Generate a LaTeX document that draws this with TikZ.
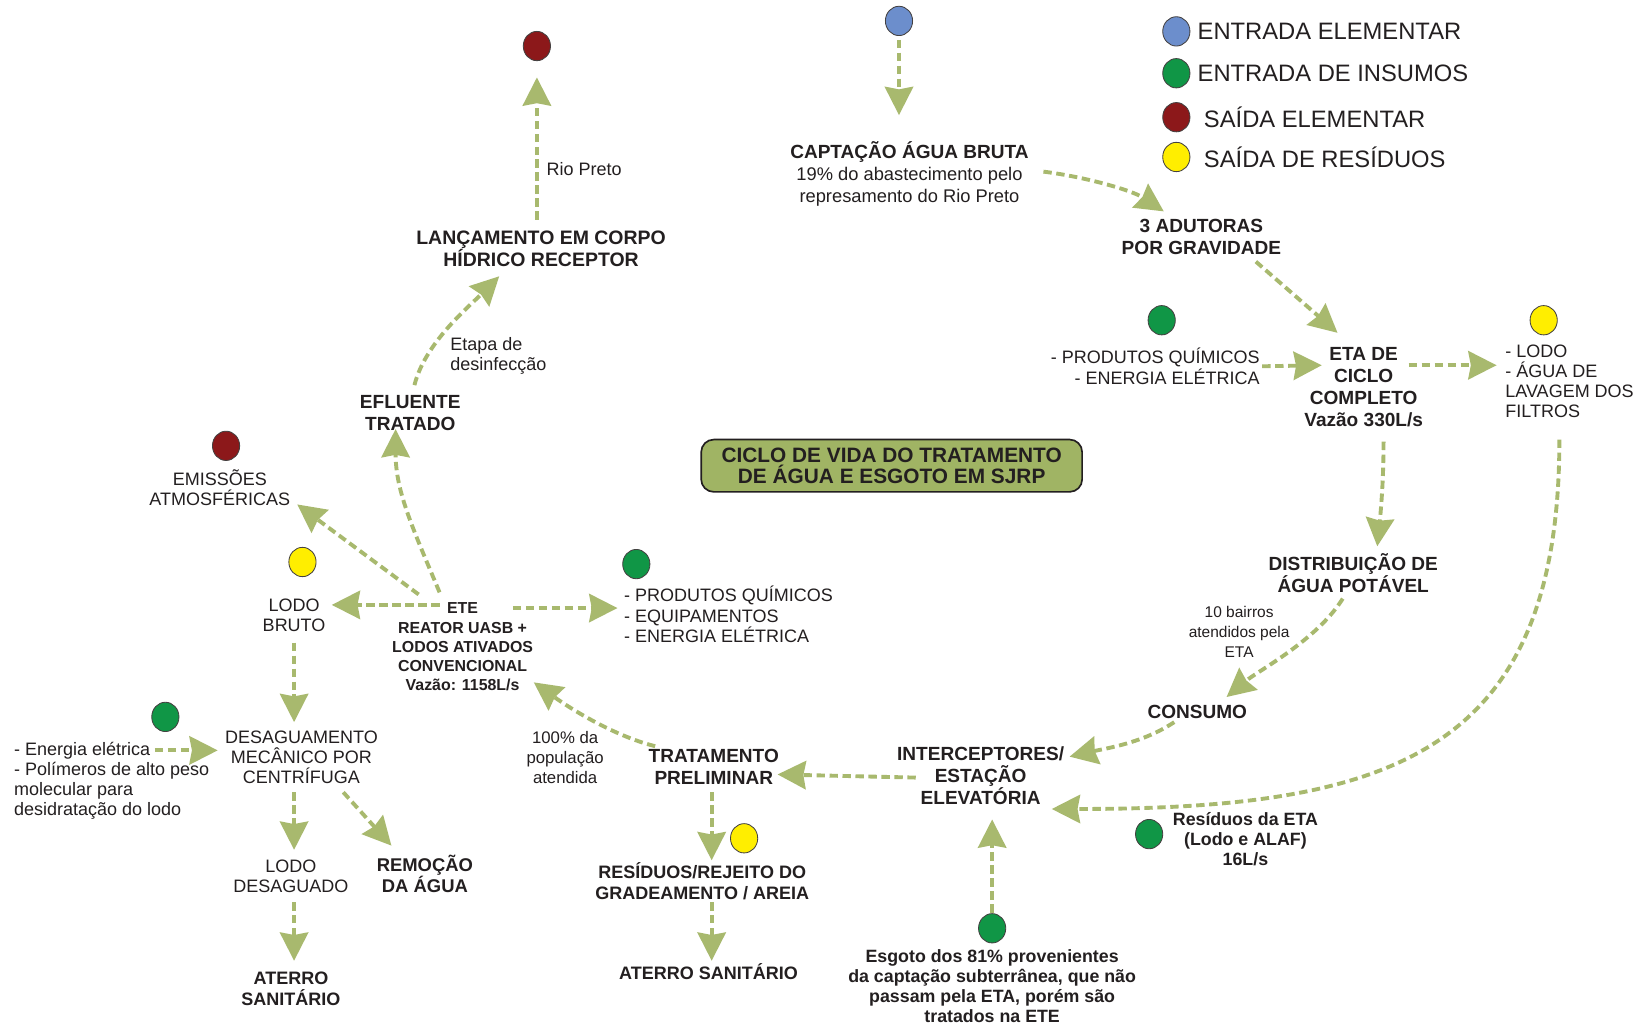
\documentclass[tikz,border=0pt]{standalone}
\usepackage{fontspec}
\setmainfont{Liberation Sans}
\usetikzlibrary{arrows.meta,shapes.geometric}

\definecolor{flowgreen}{RGB}{168,185,110}
\definecolor{titlefill}{RGB}{160,180,100}
\definecolor{dotblue}{RGB}{108,142,204}
\definecolor{dotgreen}{RGB}{16,150,70}
\definecolor{dotred}{RGB}{140,24,26}
\definecolor{dotyellow}{RGB}{255,238,0}
\definecolor{ink}{RGB}{35,31,32}

\tikzset{
  flow/.style={draw=flowgreen, line width=1.85pt, dash pattern=on 4pt off 2.2pt,
    -{Stealth[length=13.5pt,width=13.5pt,inset=1.2pt]}},
  dot/.style={ellipse, draw=ink!85, line width=0.4pt, minimum width=13pt,
    minimum height=14pt, inner sep=0pt},
  bluedot/.style={dot, fill=dotblue},
  greendot/.style={dot, fill=dotgreen},
  reddot/.style={dot, fill=dotred},
  yellowdot/.style={dot, fill=dotyellow},
  stage/.style={font=\fontsize{9.1}{10.5}\selectfont\bfseries, align=center, text=ink, inner sep=0pt},
  plain/.style={font=\fontsize{8.6}{9.6}\selectfont, align=center, text=ink, inner sep=0pt},
  note/.style={font=\fontsize{8}{9.5}\selectfont, align=center, text=ink, inner sep=0pt},
  boldnote/.style={font=\fontsize{8.5}{9.6}\selectfont\bfseries, align=center, text=ink, inner sep=0pt},
  etebox/.style={font=\fontsize{7.6}{9.1}\selectfont\bfseries, align=center, text=ink, inner sep=0pt},
  legendtext/.style={font=\fontsize{11.35}{13}\selectfont, text=ink, anchor=west, inner sep=0pt},
  titlebox/.style={rectangle, rounded corners=6pt, fill=titlefill, draw=ink, line width=0.8pt,
    minimum width=182pt, minimum height=25pt, inner sep=0pt,
    font=\fontsize{9.95}{10.4}\selectfont\bfseries, align=center, text=ink}
}

\begin{document}
\begin{tikzpicture}[x=0.5pt,y=-0.5pt]
\useasboundingbox (0,0) rectangle (1568,983);
\fill[white] (0,0) rectangle (1568,983);

% legend
\node[bluedot]   (lg1) at (1124,30)  {};
\node[greendot]  (lg2) at (1124,70)  {};
\node[reddot]    (lg3) at (1124,112) {};
\node[yellowdot] (lg4) at (1124,150) {};
\node[legendtext] (lt1) at (1144,30)  {ENTRADA ELEMENTAR};
\node[legendtext] (lt2) at (1144,70)  {ENTRADA DE INSUMOS};
\node[legendtext] (lt3) at (1150,112) {SAÍDA ELEMENTAR};
\node[legendtext] (lt4) at (1150,150) {SAÍDA DE RESÍDUOS};

% title
\node[titlebox] (title) at (852,445) {CICLO DE VIDA DO TRATAMENTO\\DE ÁGUA E ESGOTO EM SJRP};

% water supply side
\node[bluedot] (bdot) at (859,20) {};
\node[plain, font=\fontsize{8.75}{10.4}\selectfont] (cap) at (869,166)
  {{\fontsize{9.1}{10.4}\selectfont\bfseries CAPTAÇÃO ÁGUA BRUTA}\\19\% do abastecimento pelo\\represamento do Rio Preto};
\node[stage] (adut) at (1148,226) {3 ADUTORAS\\POR GRAVIDADE};
\node[stage] (eta) at (1303,370) {ETA DE\\CICLO\\COMPLETO\\Vazão 330L/s};
\node[greendot] (getai) at (1110,306) {};
\node[plain, align=right, anchor=east] (etain) at (1204,350) {- PRODUTOS QUÍMICOS\\- ENERGIA ELÉTRICA};
\node[yellowdot] (yetao) at (1475,306) {};
\node[plain, align=left, anchor=west] (etaout) at (1438,364) {- LODO\\- ÁGUA DE\\LAVAGEM DOS\\FILTROS};
\node[stage] (dist) at (1293,548) {DISTRIBUIÇÃO DE\\ÁGUA POTÁVEL};
\node[note, font=\fontsize{7.4}{9.5}\selectfont] (bair) at (1184,604) {10 bairros\\atendidos pela\\ETA};
\node[stage] (cons) at (1144,680) {CONSUMO};

% sewage side
\node[stage] (inter) at (937,741) {INTERCEPTORES/\\ESTAÇÃO\\ELEVATÓRIA};
\node[greendot] (gesg) at (948,887) {};
\node[boldnote] (esg) at (948,942) {Esgoto dos 81\% provenientes\\da captação subterrânea, que não\\passam pela ETA, porém são\\tratados na ETE};
\node[greendot] (gres) at (1098,797) {};
\node[boldnote] (reseta) at (1190,802) {Resíduos da ETA\\(Lodo e ALAF)\\16L/s};
\node[stage] (prelim) at (682,733) {TRATAMENTO\\PRELIMINAR};
\node[yellowdot] (yres) at (711,801) {};
\node[stage, font=\fontsize{8.6}{10.2}\selectfont\bfseries] (resid) at (671,842) {RESÍDUOS/REJEITO DO\\GRADEAMENTO / AREIA};
\node[stage, font=\fontsize{8.6}{10.2}\selectfont\bfseries] (aterB) at (677,928) {ATERRO SANITÁRIO};
\node[note] (pop) at (540,724) {100\% da\\população\\atendida};

% treatment plant
\node[etebox] (ete) at (442,618) {ETE\\REATOR UASB +\\LODOS ATIVADOS\\CONVENCIONAL\\Vazão: 1158L/s};
\node[greendot] (gete) at (608,539) {};
\node[plain, align=left, anchor=west] (eteins) at (596,587) {- PRODUTOS QUÍMICOS\\- EQUIPAMENTOS\\- ENERGIA ELÉTRICA};
\node[yellowdot] (ylodo) at (289,537) {};
\node[plain] (lodob) at (281,588) {LODO\\BRUTO};
\node[reddot] (remis) at (216,426) {};
\node[plain] (emis) at (210,466) {EMISSÕES\\ATMOSFÉRICAS};
\node[stage] (eflu) at (392,395) {EFLUENTE\\TRATADO};
\node[plain, align=left, anchor=west] (desinf) at (430,340) {Etapa de\\desinfecção};
\node[stage, font=\fontsize{9.3}{10.5}\selectfont\bfseries] (lanc) at (517,238) {LANÇAMENTO EM CORPO\\HÍDRICO RECEPTOR};
\node[plain, anchor=west] (rio) at (522,162) {Rio Preto};
\node[reddot] (rdotA) at (513,44) {};

% sludge line
\node[plain] (desag) at (288,724) {DESAGUAMENTO\\MECÂNICO POR\\CENTRÍFUGA};
\node[greendot] (gdes) at (158,685) {};
\node[plain, align=left, anchor=west] (desagin) at (13,746) {- Energia elétrica\\- Polímeros de alto peso\\molecular para\\desidratação do lodo};
\node[plain] (lodod) at (278,837) {LODO\\DESAGUADO};
\node[stage, font=\fontsize{8.8}{10.3}\selectfont\bfseries] (remo) at (406,835) {REMOÇÃO\\DA ÁGUA};
\node[stage, font=\fontsize{8.6}{10.3}\selectfont\bfseries] (aterA) at (278,945) {ATERRO\\SANITÁRIO};

% connectors: water supply
\draw[flow] ([shift={(0,18)}]bdot.center) -- ([shift={(-10,-56)}]cap.center);
\draw[flow] ([shift={(128,-2)}]cap.center) .. controls +(40,5) and +(-30,-20) .. ([shift={(-36,-24)}]adut.center);
\draw[flow] ([shift={(52,24)}]adut.center) -- ([shift={(-25,-52)}]eta.center);
\draw[flow] ([shift={(2,0)}]etain.east) -- ([shift={(-40,-21)}]eta.center);
\draw[flow] ([shift={(43,-21)}]eta.center) -- ([shift={(-8,-15)}]etaout.west);
\draw[flow] ([shift={(19,52)}]eta.center) .. controls +(0,40) and +(3,-30) .. ([shift={(23,-26)}]dist.center);
\draw[flow] ([shift={(52,56)}]etaout.west) .. controls +(0,300) and +(325,0) .. ([shift={(68,32)}]inter.center);
\draw[flow] ([shift={(-10,24)}]dist.center) .. controls +(-25,40) and +(30,-25) .. ([shift={(28,-14)}]cons.center);
\draw[flow] ([shift={(-22,10)}]cons.center) .. controls +(-30,20) and +(35,-8) .. ([shift={(85,-18)}]inter.center);

% connectors: sewage
\draw[flow] ([shift={(-62,2)}]inter.center) -- ([shift={(61,7)}]prelim.center);
\draw[flow] ([shift={(0,-15)}]gesg.center) -- ([shift={(11,42)}]inter.center);
\draw[flow] ([shift={(-2,24)}]prelim.center) -- ([shift={(9,-20)}]resid.center);
\draw[flow] ([shift={(9,20)}]resid.center) -- ([shift={(3,-10)}]aterB.center);
\draw[flow] ([shift={(-56,-20)}]prelim.center) .. controls +(-40,-10) and +(35,25) .. ([shift={(68,34)}]ete.center);

% connectors: treatment plant
\draw[flow] ([shift={(48,-37)}]ete.center) -- ([shift={(-6,-6)}]eteins.west);
\draw[flow] ([shift={(-22,-40)}]ete.center) -- ([shift={(36,-10)}]lodob.center);
\draw[flow] ([shift={(-42,-50)}]ete.center) -- ([shift={(74,16)}]emis.center);
\draw[flow] ([shift={(-22,-52)}]ete.center) .. controls +(-25,-60) and +(0,60) .. ([shift={(-14,15)}]eflu.center);
\draw[flow] ([shift={(4,-27)}]eflu.center) .. controls +(10,-40) and +(-30,30) .. ([shift={(-40,26)}]lanc.center);
\draw[flow] ([shift={(-4,-28)}]lanc.center) -- ([shift={(0,30)}]rdotA.center);

% connectors: sludge line
\draw[flow] ([shift={(0,26)}]lodob.center) -- ([shift={(-7,-34)}]desag.center);
\draw[flow] ([shift={(135,-29)}]desagin.west) -- ([shift={(-80,-7)}]desag.center);
\draw[flow] ([shift={(-7,33)}]desag.center) -- ([shift={(3,-25)}]lodod.center);
\draw[flow] ([shift={(40,33)}]desag.center) -- ([shift={(-32,-27)}]remo.center);
\draw[flow] ([shift={(3,25)}]lodod.center) -- ([shift={(3,-27)}]aterA.center);
\end{tikzpicture}
\end{document}
